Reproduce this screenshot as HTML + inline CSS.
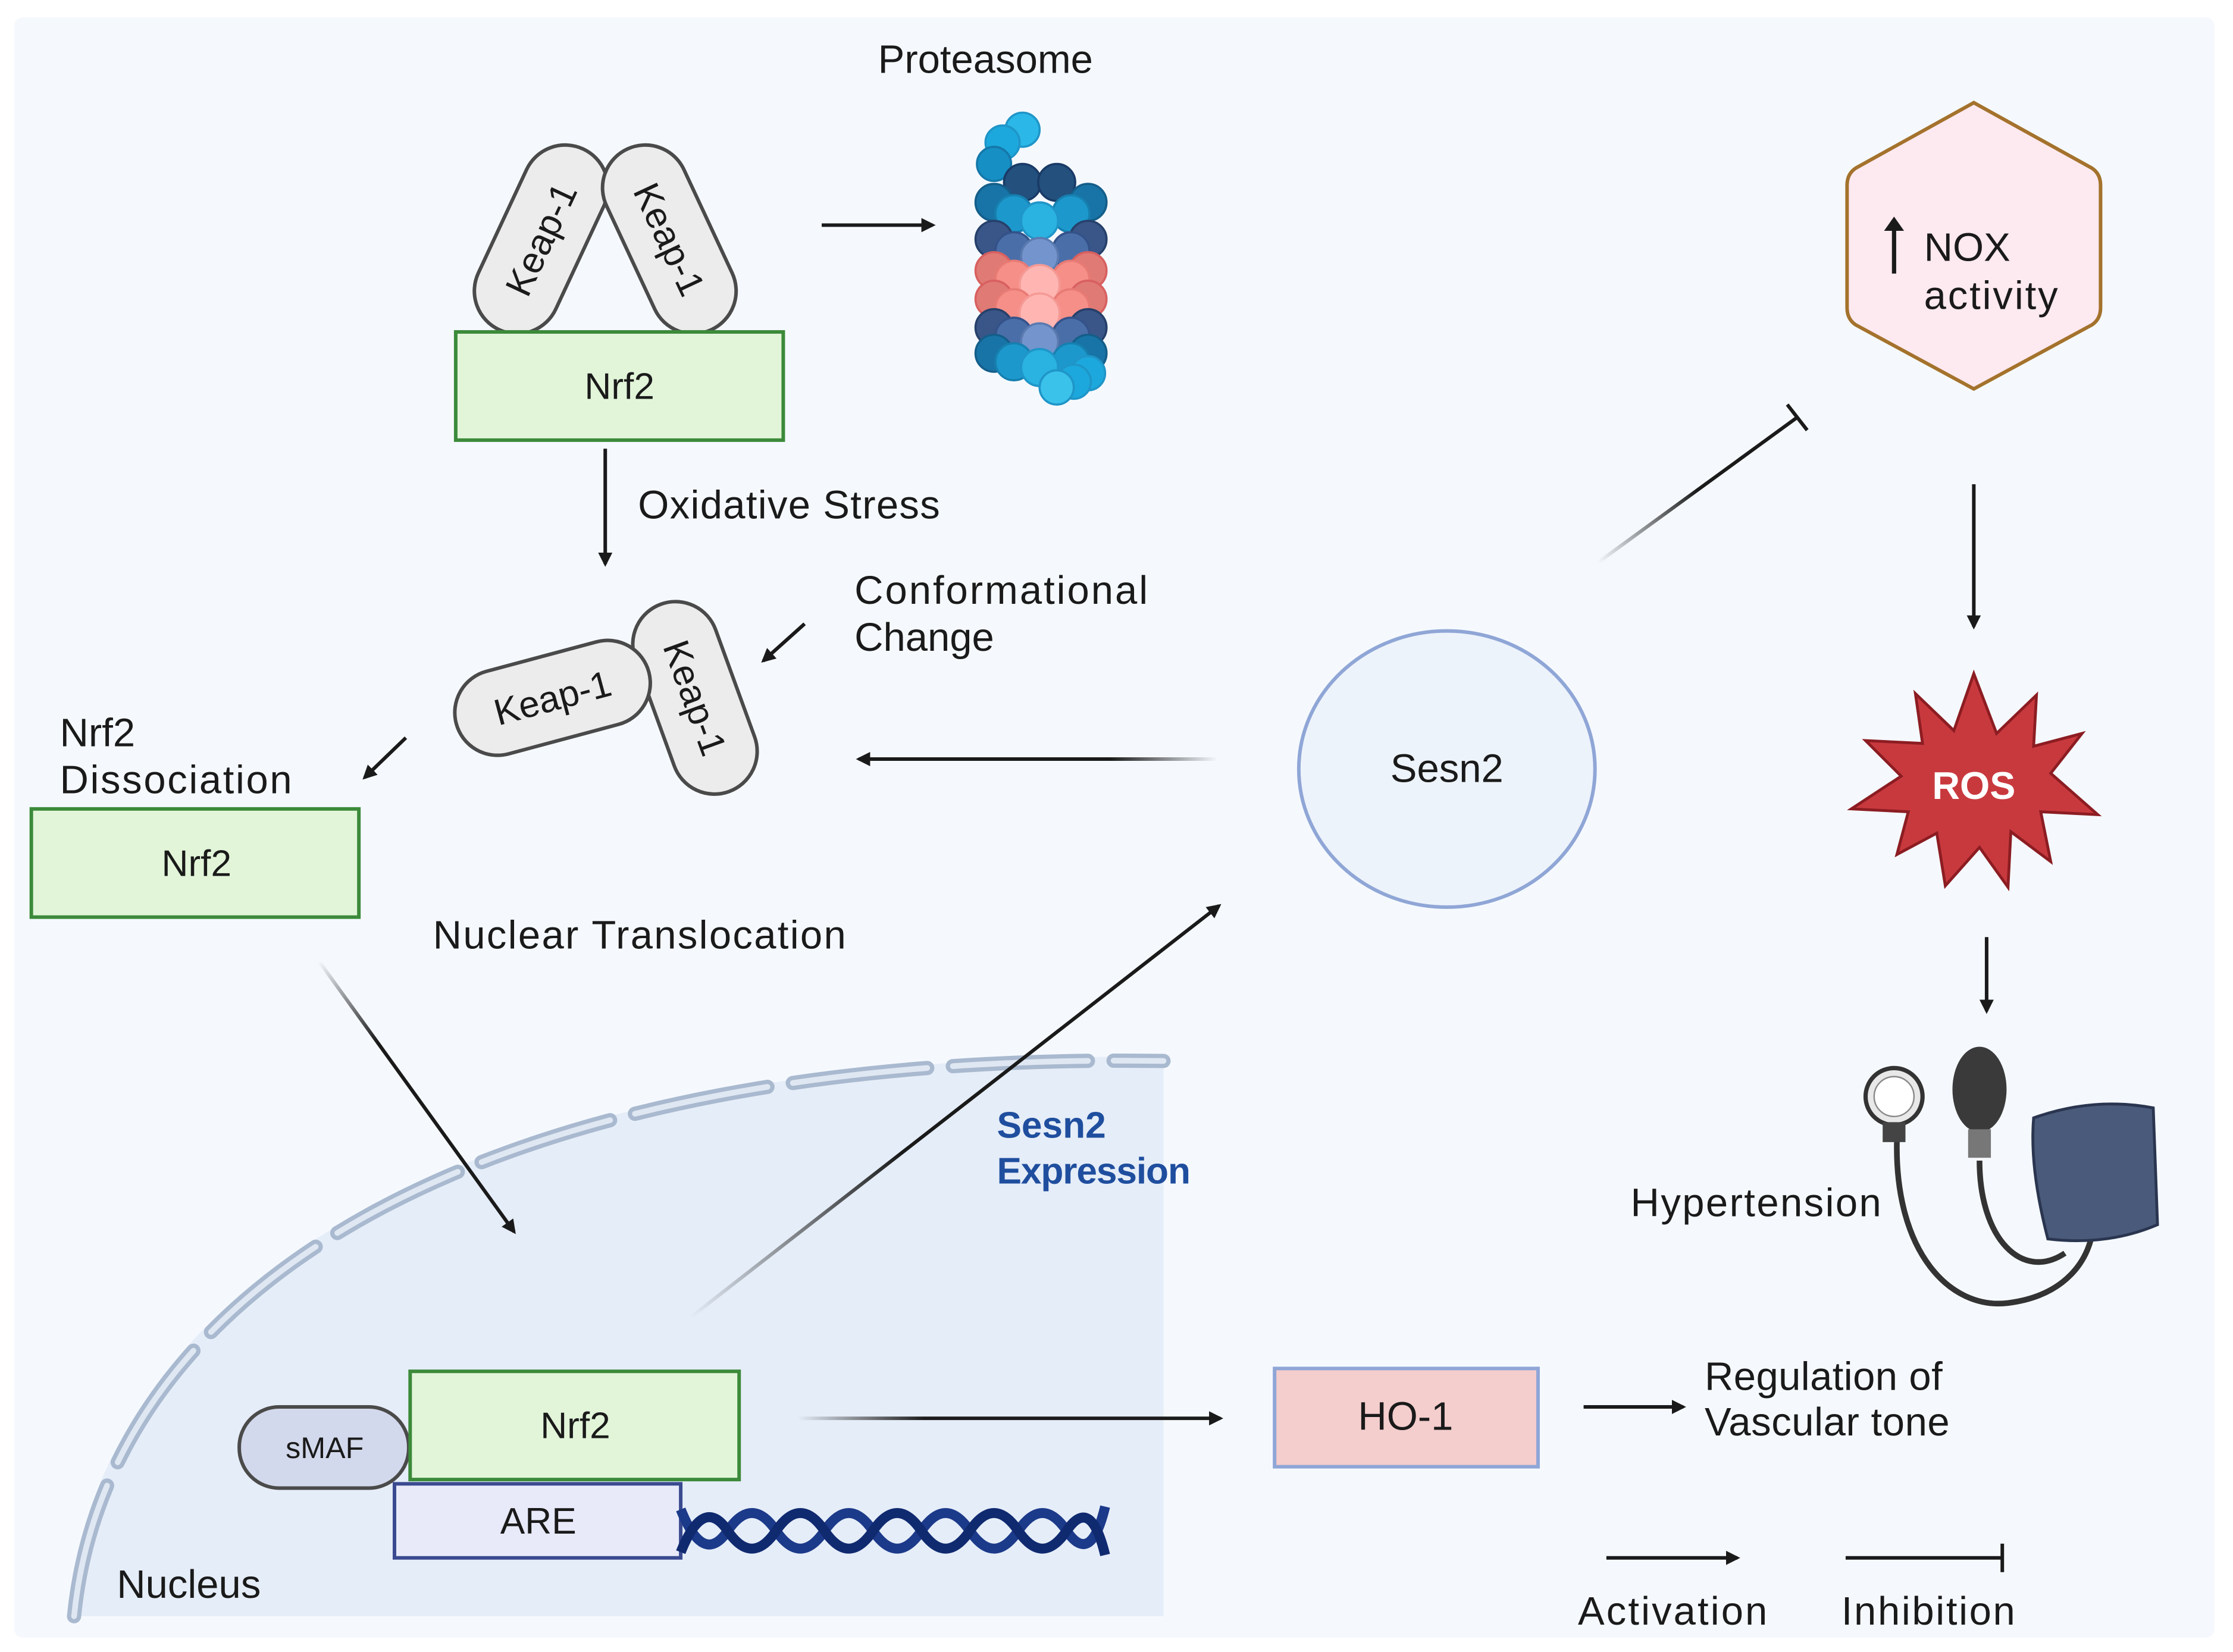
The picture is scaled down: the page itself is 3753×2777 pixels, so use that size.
<!DOCTYPE html>
<html><head><meta charset="utf-8"><style>
html,body{margin:0;padding:0;background:#fff;}
svg{display:block;}
text{font-family:"Liberation Sans",sans-serif;fill:#1a1a1a;}
</style></head><body>
<svg width="3753" height="2777" viewBox="0 0 1568 1160" xmlns="http://www.w3.org/2000/svg">
<defs>
<marker id="ah" markerWidth="10" markerHeight="10" refX="8" refY="5" orient="auto" markerUnits="userSpaceOnUse">
<path d="M0,0 L10,5 L0,10 Z" fill="#1a1a1a"/></marker>
<linearGradient id="gS" gradientUnits="userSpaceOnUse" x1="485" y1="925" x2="856" y2="636"><stop offset="0" stop-color="#1a1a1a" stop-opacity="0"/><stop offset="0.4" stop-color="#1a1a1a"/></linearGradient>
<linearGradient id="gI" gradientUnits="userSpaceOnUse" x1="1122" y1="395" x2="1262" y2="293"><stop offset="0" stop-color="#1a1a1a" stop-opacity="0"/><stop offset="0.5" stop-color="#1a1a1a"/></linearGradient>
<linearGradient id="gL" gradientUnits="userSpaceOnUse" x1="855" y1="533" x2="603" y2="533"><stop offset="0" stop-color="#1a1a1a" stop-opacity="0"/><stop offset="0.3" stop-color="#1a1a1a"/></linearGradient>
<linearGradient id="gR" gradientUnits="userSpaceOnUse" x1="560" y1="996" x2="857" y2="996"><stop offset="0" stop-color="#1a1a1a" stop-opacity="0"/><stop offset="0.3" stop-color="#1a1a1a"/></linearGradient>
<linearGradient id="gD" gradientUnits="userSpaceOnUse" x1="224" y1="675" x2="361" y2="865"><stop offset="0" stop-color="#1a1a1a" stop-opacity="0"/><stop offset="0.3" stop-color="#1a1a1a"/></linearGradient>
</defs>
<rect x="0" y="0" width="1568" height="1160" fill="#fff"/>
<rect x="10" y="12" width="1545" height="1138" rx="6" fill="#f5f9fe"/>
<!-- nucleus -->
<path d="M47 1135 C 70 900, 330 738, 817 742 L817 1135 Z" fill="#e5edf8"/>
<path d="M52 1135 C 75 905, 335 738, 817 745" fill="none" stroke="#a9b9cf" stroke-width="10" stroke-dasharray="95 18" stroke-linecap="round"/>
<path d="M52 1135 C 75 905, 335 738, 817 745" fill="none" stroke="#dfe7f2" stroke-width="4" stroke-dasharray="95 18" stroke-linecap="round"/>
<text x="82" y="1122" font-size="28">Nucleus</text>

<!-- top Keap-1 -->
<g transform="translate(380,168) rotate(25)"><rect x="-30" y="-70" width="60" height="140" rx="30" fill="#ececec" stroke="#4a4a4a" stroke-width="2.5"/>
<text x="0" y="9" font-size="26" text-anchor="middle" transform="rotate(-90)">Keap-1</text></g>
<g transform="translate(470,168) rotate(-25)"><rect x="-30" y="-70" width="60" height="140" rx="30" fill="#ececec" stroke="#4a4a4a" stroke-width="2.5"/>
<text x="0" y="9" font-size="26" text-anchor="middle" transform="rotate(90)">Keap-1</text></g>
<rect x="320" y="233" width="230" height="76" fill="#e2f5d9" stroke="#3c8a3a" stroke-width="2.5"/>
<text x="435" y="280" font-size="26" text-anchor="middle">Nrf2</text>
<line x1="577" y1="158" x2="655" y2="158" stroke="#1a1a1a" stroke-width="2.5" marker-end="url(#ah)"/>
<text x="692" y="51" font-size="28" text-anchor="middle">Proteasome</text>

<!-- proteasome -->
<g stroke-width="1.5">
<circle cx="718" cy="91" r="12" fill="#2bb8e8" stroke="#1f95c8"/>
<circle cx="704" cy="100" r="12" fill="#1ca8dc" stroke="#1f95c8"/>
<circle cx="698" cy="115" r="12" fill="#168fc4" stroke="#1578aa"/>
<!-- row teal top -->
<circle cx="718" cy="128" r="13" fill="#23507d" stroke="#1a3a66"/>
<circle cx="742" cy="128" r="13" fill="#23507d" stroke="#1a3a66"/>
<circle cx="698" cy="142" r="13" fill="#1874a6" stroke="#145e8a"/>
<circle cx="764" cy="142" r="13" fill="#1874a6" stroke="#145e8a"/>
<circle cx="712" cy="150" r="13" fill="#1d98cc" stroke="#1680b0"/>
<circle cx="752" cy="150" r="13" fill="#1d98cc" stroke="#1680b0"/>
<circle cx="730" cy="155" r="13" fill="#2ab2e0" stroke="#1f95c8"/>
<!-- navy -->
<circle cx="698" cy="168" r="13" fill="#3a5688" stroke="#26406a"/>
<circle cx="764" cy="168" r="13" fill="#3a5688" stroke="#26406a"/>
<circle cx="712" cy="176" r="13" fill="#4a6ea8" stroke="#34528a"/>
<circle cx="752" cy="176" r="13" fill="#4a6ea8" stroke="#34528a"/>
<circle cx="730" cy="180" r="13" fill="#7394cc" stroke="#5a7ab0"/>
<!-- salmon -->
<circle cx="698" cy="190" r="13" fill="#e07a74" stroke="#d86060"/>
<circle cx="764" cy="190" r="13" fill="#e07a74" stroke="#d86060"/>
<circle cx="712" cy="196" r="13" fill="#f58f88" stroke="#e87a74"/>
<circle cx="752" cy="196" r="13" fill="#f58f88" stroke="#e87a74"/>
<circle cx="730" cy="200" r="14" fill="#ffb6b3" stroke="#f59a96"/>
<circle cx="698" cy="210" r="13" fill="#e07a74" stroke="#d86060"/>
<circle cx="764" cy="210" r="13" fill="#e07a74" stroke="#d86060"/>
<circle cx="712" cy="216" r="13" fill="#f58f88" stroke="#e87a74"/>
<circle cx="752" cy="216" r="13" fill="#f58f88" stroke="#e87a74"/>
<circle cx="730" cy="220" r="14" fill="#ffb6b3" stroke="#f59a96"/>
<!-- navy -->
<circle cx="698" cy="230" r="13" fill="#3a5688" stroke="#26406a"/>
<circle cx="764" cy="230" r="13" fill="#3a5688" stroke="#26406a"/>
<circle cx="712" cy="236" r="13" fill="#4a6ea8" stroke="#34528a"/>
<circle cx="752" cy="236" r="13" fill="#4a6ea8" stroke="#34528a"/>
<circle cx="730" cy="240" r="13" fill="#7394cc" stroke="#5a7ab0"/>
<!-- teal bottom -->
<circle cx="698" cy="248" r="13" fill="#1874a6" stroke="#145e8a"/>
<circle cx="764" cy="248" r="13" fill="#1874a6" stroke="#145e8a"/>
<circle cx="712" cy="254" r="13" fill="#1d98cc" stroke="#1680b0"/>
<circle cx="752" cy="254" r="13" fill="#1d98cc" stroke="#1680b0"/>
<circle cx="730" cy="258" r="13" fill="#2ab2e0" stroke="#1f95c8"/>
<circle cx="764" cy="262" r="12" fill="#1ca8dc" stroke="#1f95c8"/>
<circle cx="754" cy="268" r="12" fill="#1ca8dc" stroke="#1f95c8"/>
<circle cx="742" cy="272" r="12" fill="#3ac2ea" stroke="#1f95c8"/>
</g>

<!-- oxidative stress -->
<line x1="425" y1="315" x2="425" y2="396" stroke="#1a1a1a" stroke-width="2.5" marker-end="url(#ah)"/>
<text x="448" y="364" font-size="28" textLength="212">Oxidative Stress</text>

<!-- middle Keap-1 -->
<g transform="translate(488,490) rotate(-20)"><rect x="-30" y="-70" width="60" height="140" rx="30" fill="#ececec" stroke="#4a4a4a" stroke-width="2.5"/>
<text x="0" y="9" font-size="26" text-anchor="middle" transform="rotate(90)">Keap-1</text></g>
<g transform="translate(388,490) rotate(-15)"><rect x="-70" y="-30" width="140" height="60" rx="30" fill="#ececec" stroke="#4a4a4a" stroke-width="2.5"/>
<text x="0" y="9" font-size="26" text-anchor="middle">Keap-1</text></g>
<text x="600" y="424" font-size="28" textLength="206">Conformational</text>
<text x="600" y="457" font-size="28">Change</text>
<line x1="565" y1="438" x2="536" y2="464" stroke="#1a1a1a" stroke-width="2.5" marker-end="url(#ah)"/>
<text x="42" y="524" font-size="28">Nrf2</text>
<text x="42" y="557" font-size="28" textLength="163">Dissociation</text>
<line x1="285" y1="518" x2="256" y2="546" stroke="#1a1a1a" stroke-width="2.5" marker-end="url(#ah)"/>
<rect x="22" y="568" width="230" height="76" fill="#e2f5d9" stroke="#3c8a3a" stroke-width="2.5"/>
<text x="138" y="615" font-size="26" text-anchor="middle">Nrf2</text>
<text x="304" y="666" font-size="28" textLength="290">Nuclear Translocation</text>
<line x1="224" y1="675" x2="361" y2="865" stroke="url(#gD)" stroke-width="2.5" marker-end="url(#ah)"/>

<!-- Sesn2 -->
<line x1="485" y1="925" x2="856" y2="636" stroke="url(#gS)" stroke-width="2.5" marker-end="url(#ah)"/>
<text x="700" y="799" font-size="26" font-weight="bold" style="fill:#1f4e9e">Sesn2</text>
<text x="700" y="831" font-size="26" font-weight="bold" style="fill:#1f4e9e" textLength="136">Expression</text>
<ellipse cx="1016" cy="540" rx="104" ry="97" fill="#edf3fb" stroke="#8fa6d6" stroke-width="2.5"/>
<text x="1016" y="549" font-size="28" text-anchor="middle">Sesn2</text>
<line x1="855" y1="533" x2="603" y2="533" stroke="url(#gL)" stroke-width="2.5" marker-end="url(#ah)"/>
<line x1="1122" y1="395" x2="1262" y2="293" stroke="url(#gI)" stroke-width="2.5"/>
<line x1="1255" y1="284" x2="1269" y2="302" stroke="#1a1a1a" stroke-width="2.5"/>

<!-- NOX -->
<path d="M1386 72 L1469 118 Q1475 122 1475 130 L1475 216 Q1475 224 1469 228 L1386 273 L1303 228 Q1297 224 1297 216 L1297 130 Q1297 122 1303 118 Z" fill="#fde9f0" stroke="#a4722c" stroke-width="2.5"/>
<line x1="1330" y1="192" x2="1330" y2="158" stroke="#1a1a1a" stroke-width="3"/>
<path d="M1323 162 L1330 152 L1337 162 Z" fill="#1a1a1a"/>
<text x="1351" y="183" font-size="28">NOX</text>
<text x="1351" y="217" font-size="28" textLength="94">activity</text>
<line x1="1386" y1="340" x2="1386" y2="440" stroke="#1a1a1a" stroke-width="2.5" marker-end="url(#ah)"/>
<!-- ROS -->
<path d="M1386 473 L1402 515 L1430 488 L1428 524 L1462 515 L1440 543 L1473 572 L1433 570 L1440 605 L1412 584 L1410 623 L1390 595 L1366 622 L1360 585 L1332 600 L1340 570 L1300 568 L1335 545 L1310 520 L1350 522 L1345 487 L1372 513 Z" fill="#c8393e" stroke="#8c1d22" stroke-width="2"/>
<text x="1386" y="561" font-size="27" font-weight="bold" text-anchor="middle" style="fill:#fff">ROS</text>
<line x1="1395" y1="658" x2="1395" y2="710" stroke="#1a1a1a" stroke-width="2.5" marker-end="url(#ah)"/>

<!-- BP device -->
<path d="M1332 800 C 1330 880, 1370 920, 1410 915 C 1450 910, 1468 885, 1470 860" fill="none" stroke="#333" stroke-width="4"/>
<path d="M1390 815 C 1390 870, 1420 900, 1450 880" fill="none" stroke="#333" stroke-width="4"/>
<circle cx="1330" cy="770" r="20" fill="#e8e8e8" stroke="#333" stroke-width="3"/>
<circle cx="1330" cy="770" r="14" fill="#fff" stroke="#888" stroke-width="1"/>
<rect x="1322" y="788" width="16" height="14" fill="#444"/>
<ellipse cx="1390" cy="765" rx="19" ry="30" fill="#3a3a3a"/>
<rect x="1382" y="793" width="16" height="20" fill="#777"/>
<path d="M1428 785 Q1470 770 1512 778 L1515 860 Q1480 875 1438 870 Q1425 820 1428 785 Z" fill="#4a5a7a" stroke="#2a3550" stroke-width="2"/>
<text x="1145" y="854" font-size="28" textLength="176">Hypertension</text>

<!-- nucleus contents -->
<rect x="168" y="988" width="119" height="57" rx="28" fill="#d3d9ec" stroke="#4a4a4a" stroke-width="2.5"/>
<text x="228" y="1024" font-size="21" text-anchor="middle">sMAF</text>
<rect x="288" y="963" width="231" height="76" fill="#e2f5d9" stroke="#3c8a3a" stroke-width="2.5"/>
<text x="404" y="1010" font-size="26" text-anchor="middle">Nrf2</text>
<rect x="277" y="1042" width="201" height="52" fill="#e8eafa" stroke="#3a4a90" stroke-width="2.5"/>
<text x="378" y="1077" font-size="26" text-anchor="middle">ARE</text>
<path d="M478 1060 Q494 1100 511 1075 T545 1075 T579 1075 T613 1075 T647 1075 T681 1075 T715 1075 T749 1075 T776 1058" fill="none" stroke="#1c3a8a" stroke-width="7"/>
<path d="M478 1090 Q494 1050 511 1075 T545 1075 T579 1075 T613 1075 T647 1075 T681 1075 T715 1075 T749 1075 T776 1092" fill="none" stroke="#102a70" stroke-width="7"/>

<line x1="560" y1="996" x2="857" y2="996" stroke="url(#gR)" stroke-width="2.5" marker-end="url(#ah)"/>
<rect x="895" y="961" width="185" height="69" fill="#f4cdcd" stroke="#8fa6d6" stroke-width="2.5"/>
<text x="987" y="1004" font-size="28" text-anchor="middle">HO-1</text>
<line x1="1112" y1="988" x2="1182" y2="988" stroke="#1a1a1a" stroke-width="2.5" marker-end="url(#ah)"/>
<text x="1197" y="976" font-size="28" textLength="167">Regulation of</text>
<text x="1197" y="1008" font-size="28" textLength="172">Vascular tone</text>

<!-- legend -->
<line x1="1128" y1="1094" x2="1220" y2="1094" stroke="#1a1a1a" stroke-width="2.5" marker-end="url(#ah)"/>
<line x1="1296" y1="1094" x2="1406" y2="1094" stroke="#1a1a1a" stroke-width="2.5"/>
<line x1="1406" y1="1084" x2="1406" y2="1104" stroke="#1a1a1a" stroke-width="2.5"/>
<text x="1108" y="1141" font-size="28" textLength="133">Activation</text>
<text x="1293" y="1141" font-size="28" textLength="122">Inhibition</text>
</svg>
</body></html>
